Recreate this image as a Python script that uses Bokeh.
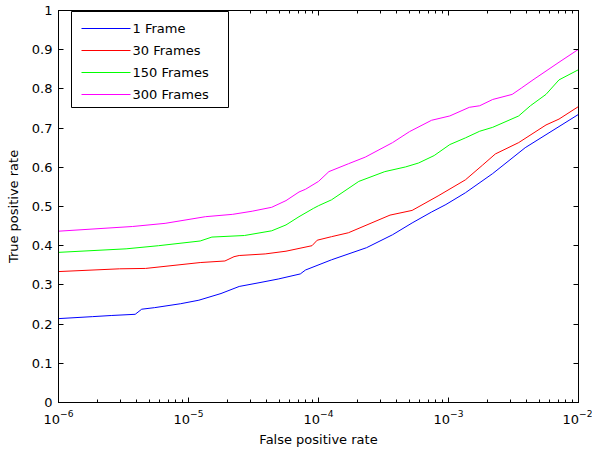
from bokeh.plotting import figure
from bokeh.models import (LogAxis, LinearAxis, FixedTicker, LogTicker, BoxAnnotation, Arrow, Label)
from bokeh.embed import file_html
from bokeh.resources import INLINE

# log10 of false positive rate, and true positive rate, per series
log_fpr_1 = [-6.0, -5.74, -5.59, -5.41, -5.36, -5.26, -5.06, -4.92, -4.75, -4.61, -4.45, -4.31, -4.14, -4.10,
             -3.90, -3.63, -3.43, -3.28, -3.13, -3.02, -2.87, -2.66, -2.41, -2.0]
tpr_1 = [0.214, 0.219, 0.222, 0.225, 0.238, 0.242, 0.252, 0.261, 0.278, 0.296, 0.306, 0.315, 0.328, 0.338,
         0.364, 0.395, 0.428, 0.458, 0.486, 0.505, 0.535, 0.584, 0.650, 0.735]

log_fpr_30 = [-6.0, -5.53, -5.33, -4.91, -4.72, -4.65, -4.61, -4.41, -4.25, -4.05, -4.01, -3.90, -3.77,
              -3.45, -3.28, -3.08, -2.87, -2.74, -2.64, -2.46, -2.25, -2.15, -2.0]
tpr_30 = [0.334, 0.341, 0.342, 0.357, 0.361, 0.372, 0.375, 0.379, 0.386, 0.400, 0.414, 0.423, 0.433,
          0.478, 0.490, 0.527, 0.568, 0.605, 0.634, 0.663, 0.708, 0.723, 0.755]

log_fpr_150 = [-6.0, -5.48, -5.23, -4.91, -4.82, -4.57, -4.36, -4.25, -4.15, -4.04, -4.00, -3.90, -3.69,
               -3.49, -3.33, -3.23, -3.11, -2.99, -2.87, -2.76, -2.66, -2.46, -2.37, -2.25, -2.15, -2.0]
tpr_150 = [0.383, 0.392, 0.400, 0.412, 0.422, 0.426, 0.438, 0.453, 0.474, 0.495, 0.502, 0.517, 0.564,
           0.589, 0.601, 0.611, 0.630, 0.658, 0.675, 0.692, 0.702, 0.731, 0.757, 0.786, 0.823, 0.849]

log_fpr_300 = [-6.0, -5.43, -5.18, -4.87, -4.66, -4.51, -4.36, -4.25, -4.15, -4.10, -4.00, -3.92, -3.77,
               -3.64, -3.43, -3.30, -3.13, -2.99, -2.84, -2.76, -2.66, -2.51, -2.44, -2.35, -2.15, -2.0]
tpr_300 = [0.437, 0.449, 0.457, 0.474, 0.480, 0.488, 0.498, 0.515, 0.537, 0.544, 0.564, 0.589, 0.609,
           0.626, 0.663, 0.691, 0.720, 0.731, 0.753, 0.757, 0.773, 0.786, 0.802, 0.823, 0.868, 0.901]

series_names = ["1 Frame", "30 Frames", "150 Frames", "300 Frames"]
series_colors = ["#0000ff", "#ff0000", "#00ff00", "#ff00ff"]
y_ticks = [0, 0.1, 0.2, 0.3, 0.4, 0.5, 0.6, 0.7, 0.8, 0.9, 1]
y_labels = ["0", "0.1", "0.2", "0.3", "0.4", "0.5", "0.6", "0.7", "0.8", "0.9", "1"]

FONT = "DejaVu Sans"
FS = "13px"

p = figure(width=592, height=457, x_axis_type="log", x_range=(1e-6, 1e-2), y_range=(0, 1),
           output_backend="svg", toolbar_location=None,
           min_border_left=58, min_border_right=14, min_border_top=18, min_border_bottom=42,
           x_axis_label="False positive rate", y_axis_label="True positive rate")
p.styles = {"margin-top": "-8px"}
p.grid.visible = False
p.outline_line_color = "black"
p.background_fill_color = "white"
p.border_fill_color = "white"

all_series = [(log_fpr_1, tpr_1), (log_fpr_30, tpr_30), (log_fpr_150, tpr_150), (log_fpr_300, tpr_300)]
for (lx, ty), col in zip(all_series, series_colors):
    xs = [10 ** v for v in lx]
    p.line(xs, ty, line_color=col, line_width=1)


def style_axis(ax, labels=True):
    ax.axis_line_color = "black"
    ax.major_tick_line_color = "black"
    ax.minor_tick_line_color = "black"
    ax.major_tick_in = 5
    ax.major_tick_out = 0
    ax.minor_tick_in = 3
    ax.minor_tick_out = 0
    ax.major_label_text_font = FONT
    ax.major_label_text_font_size = FS
    ax.major_label_text_color = "black"
    ax.axis_label_text_font = FONT
    ax.axis_label_text_font_size = FS
    ax.axis_label_text_font_style = "normal"
    ax.axis_label_text_color = "black"
    if not labels:
        ax.major_label_text_alpha = 0
        ax.major_label_text_font_size = "0px"


xa = p.xaxis[0]
style_axis(xa)
xa.ticker = LogTicker(num_minor_ticks=10)
xa.major_label_standoff = 7
xa.axis_label_standoff = 5

ya = p.yaxis[0]
style_axis(ya)
ya.ticker = FixedTicker(ticks=y_ticks)
ya.major_label_overrides = {t: l for t, l in zip(y_ticks, y_labels)}
ya.minor_tick_line_color = None
ya.major_label_standoff = 6
ya.axis_label_standoff = 8

top = LogAxis(ticker=LogTicker(num_minor_ticks=10))
style_axis(top, labels=False)
top.major_label_standoff = 0
p.add_layout(top, "above")

right = LinearAxis(ticker=FixedTicker(ticks=y_ticks))
style_axis(right, labels=False)
right.minor_tick_line_color = None
right.major_label_standoff = 0
p.add_layout(right, "right")

# legend box (screen units, relative to the plot frame)
box = BoxAnnotation(left=13, right=170, top=391, bottom=295,
                    left_units="screen", right_units="screen", top_units="screen", bottom_units="screen",
                    fill_color="white", fill_alpha=1.0, line_color="black", line_width=1, line_alpha=1.0)
p.add_layout(box)
row_y = [374, 352, 330, 308]
for name, col, yy in zip(series_names, series_colors, row_y):
    p.add_layout(Arrow(x_start=23, y_start=yy, x_end=72, y_end=yy, start_units="screen", end_units="screen",
                       start=None, end=None, line_color=col, line_width=1))
    p.add_layout(Label(x=74, y=yy, x_units="screen", y_units="screen", text=name,
                       text_font=FONT, text_font_size=FS, text_baseline="middle", text_color="black"))

open("out.html", "w").write(file_html(p, INLINE))
